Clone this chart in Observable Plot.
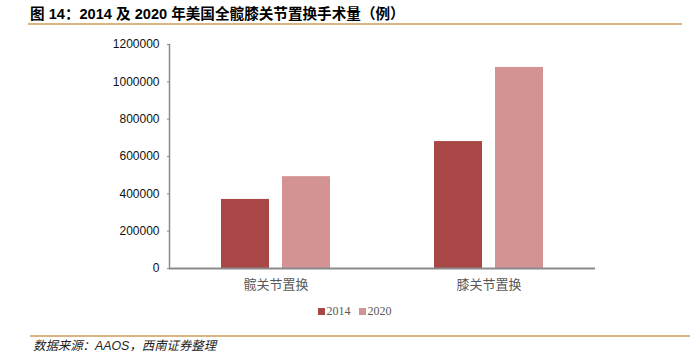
<!DOCTYPE html>
<html><head><meta charset="utf-8">
<script src="https://cdn.jsdelivr.net/npm/d3@7"></script>
<script src="https://cdn.jsdelivr.net/npm/@observablehq/plot@0.6"></script>
<style>
html,body{margin:0;padding:0;background:#fff;}
#wrap{position:relative;width:699px;height:355px;overflow:hidden;font-family:"Liberation Sans",Arial,"Noto Sans CJK SC",sans-serif;}
#title{position:absolute;left:30px;top:2px;font-family:"Liberation Sans",Arial,"Noto Sans CJK SC",sans-serif;font-weight:bold;font-size:14.6px;color:#000;white-space:nowrap;}
#tline{position:absolute;left:28px;top:23px;width:654px;height:2px;background:#D8B582;}
#chart{position:absolute;left:0;top:0;}
#legend{position:absolute;top:304px;left:0;width:717px;text-align:center;font-family:"Liberation Serif","Times New Roman",serif;font-size:12px;color:#595959;}
#legend span.sw{display:inline-block;width:7px;height:7px;margin-right:2px;vertical-align:0px;}
#legend span.it{margin-right:8px;}
#fline{position:absolute;left:30px;top:335px;width:660px;height:2px;background:#D8B582;}
#foot{position:absolute;left:33px;top:339px;font-size:12.4px;font-style:italic;color:#222;white-space:nowrap;line-height:15px;font-family:"Liberation Sans",Arial,"Noto Sans CJK SC",sans-serif;}
</style></head>
<body>
<div id="wrap">
  <div id="title"></div>
  <div id="tline"></div>
  <div id="chart"></div>
  <div id="legend"></div>
  <div id="fline"></div>
  <div id="foot"></div>
</div>
<script>
const titleText = "图 14：2014 及 2020 年美国全髋膝关节置换手术量（例）";
const sourceText = "数据来源：AAOS，西南证券整理";
const categories = ["髋关节置换", "膝关节置换"];
const years = ["2014", "2020"];
const values2014 = [370000, 680000];
const values2020 = [492000, 1077000];
const yTicks = [0, 200000, 400000, 600000, 800000, 1000000, 1200000];
const colors = ["#A84745", "#D39392"];

document.getElementById("title").textContent = titleText;
document.getElementById("foot").textContent = sourceText;

const series = [values2014, values2020];
const data = [];
categories.forEach((c, i) => years.forEach((y, j) => data.push({cat: c, year: y, value: series[j][i]})));

const chart = Plot.plot({
  width: 699,
  height: 300,
  marginTop: 44,
  marginBottom: 32,
  marginLeft: 169,
  marginRight: 104,
  style: {fontFamily: '"Liberation Sans", Arial, "Noto Sans CJK SC", sans-serif', fontSize: "12px", color: "#111", background: "transparent"},
  fx: {domain: categories, paddingInner: 0, paddingOuter: 0, label: null},
  x: {domain: years, paddingInner: 13 / 61, paddingOuter: 52 / 61, axis: null},
  y: {domain: [0, 1200000], ticks: yTicks, tickFormat: d3.format("d"), label: null},
  color: {domain: years, range: colors},
  marks: [
    Plot.barY(data, {fx: "cat", x: "year", y: "value", fill: "year"}),
    Plot.frame({anchor: "left", facetAnchor: "left", stroke: "#8a8a8a", strokeWidth: 1.5}),
    Plot.ruleY([0], {stroke: "#8a8a8a", strokeWidth: 2}),
    Plot.axisY({ticks: yTicks, tickFormat: d3.format("d"), tickSize: 2, tickPadding: 8, stroke: "#8a8a8a", fill: "#111", fontSize: 12, label: null}),
    Plot.axisFx({anchor: "bottom", tickSize: 0, tickPadding: 11, fill: "#595959", fontSize: 13, label: null})
  ]
});
document.getElementById("chart").appendChild(chart);

const leg = document.getElementById("legend");
years.forEach((y, i) => {
  const it = document.createElement("span");
  it.className = "it";
  const sw = document.createElement("span");
  sw.className = "sw";
  sw.style.background = colors[i];
  it.appendChild(sw);
  it.appendChild(document.createTextNode(y));
  leg.appendChild(it);
});
</script>
</body></html>
